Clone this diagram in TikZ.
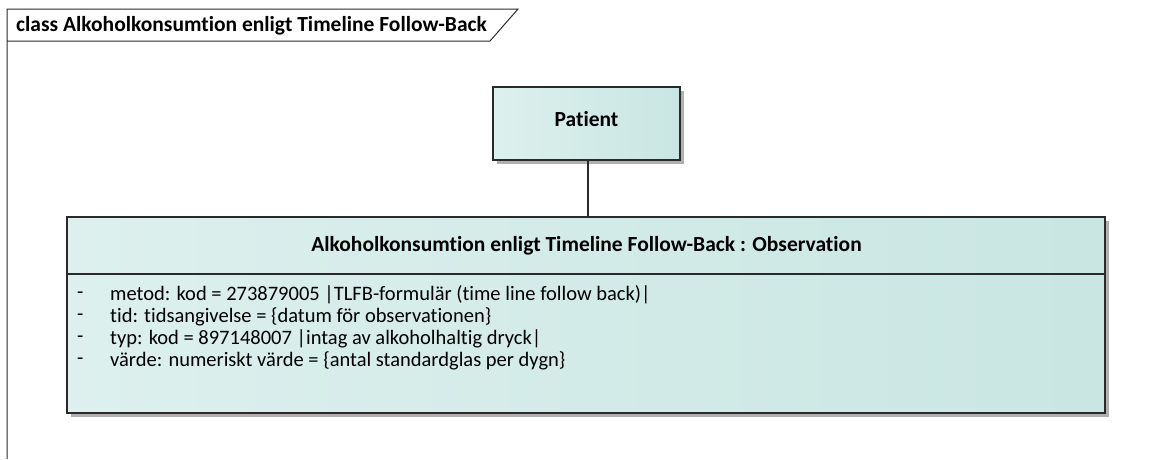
\documentclass[tikz,border=0pt]{standalone}
\usepackage{fontspec}
\setmainfont[Ligatures=NoCommon]{Carlito}
\definecolor{boxL}{HTML}{DDF0EE}
\definecolor{boxR}{HTML}{C9E6E2}
\definecolor{edge}{HTML}{2A2A2A}
\definecolor{shad}{HTML}{B0B0B0}
\tikzset{
  cls/.style={draw=edge, line width=1.3pt, left color=boxL, right color=boxR},
  attr/.style={anchor=west, inner sep=0pt, font=\fontsize{20.5}{24}\selectfont},
  ttl/.style={inner sep=0pt, font=\bfseries\fontsize{21.5}{26}\selectfont},
  conn/.style={draw=edge, line width=1.3pt}
}
\begin{document}
\begin{tikzpicture}[x=1pt,y=-1pt]
\useasboundingbox (0,0) rectangle (1160,459);
\fill[white] (0,0) rectangle (1160,459);
% frame
\draw[edge, line width=1pt] (7,459) -- (7,9) -- (518,9) -- (490,41) -- (7,41);
\node[ttl, anchor=west] (frm) at (16,26) {class Alkoholkonsumtion enligt Timeline Follow-Back};
% Patient
\fill[shad] (497,91) rectangle (684,164);
\draw[cls] (493,87) rectangle (680,160);
\node[ttl] (pat) at (586.5,119) {Patient};
\coordinate (patb) at (588,160);
% Observation
\fill[shad] (71,221) rectangle (1109,417);
\draw[cls] (67,217) rectangle (1105,413);
\draw[conn] (67,274) -- (1105,274);
\coordinate (obst) at (588,217);
\node[ttl] (obs) at (586.5,246) {Alkoholkonsumtion enligt Timeline Follow-Back : Observation};
\foreach \y/\t [count=\i] in {295/{metod: kod = 273879005 |TLFB-formulär (time line follow back)|},
  317/{tid: tidsangivelse = \{datum för observationen\}},
  339/{typ: kod = 897148007 |intag av alkoholhaltig dryck|},
  361/{värde: numeriskt värde = \{antal standardglas per dygn\}}}{
  \node[attr] (d\i) at (77,\y) {-};
  \node[attr] (a\i) at (110,\y) {\t};
}
\draw[conn] (patb) -- (obst);
\end{tikzpicture}
\end{document}
